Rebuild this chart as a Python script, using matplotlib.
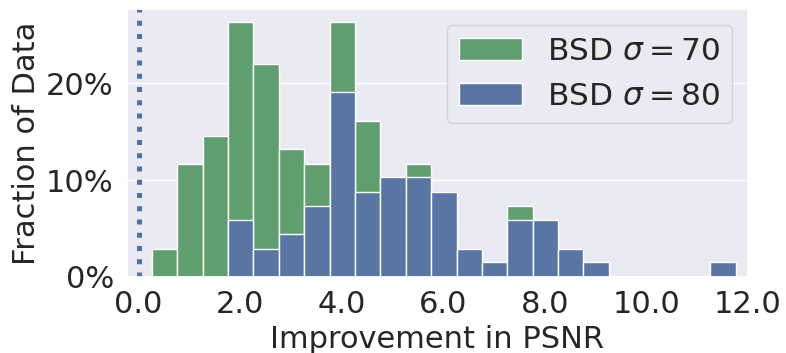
import numpy as np
import matplotlib
matplotlib.use("Agg")
import matplotlib.pyplot as plt
import seaborn as sns
from matplotlib.ticker import FuncFormatter

# Histogram bins (PSNR improvement, dB)
bin_start = 0.26
bin_width = 0.5
n_bins = 23

# Percentage of images falling in each bin
bsd70_pct = [2.9, 11.7, 14.6, 26.4, 22.0, 13.2, 11.7, 26.4, 16.1, 8.8, 11.7, 5.9,
             1.5, 0.0, 7.3, 4.4, 1.5, 0.0, 0.0, 0.0, 0.0, 0.0, 0.0]
bsd80_pct = [0.0, 0.0, 0.0, 5.9, 2.9, 4.4, 7.3, 19.1, 8.8, 10.3, 10.3, 8.8,
             2.9, 1.5, 5.9, 5.9, 2.9, 1.5, 0.0, 0.0, 0.0, 0.0, 1.5]

series_labels = [r"BSD $\sigma = 70$", r"BSD $\sigma = 80$"]
x_ticks = [0.0, 2.0, 4.0, 6.0, 8.0, 10.0, 12.0]
y_ticks = [0, 10, 20]

sns.set_theme(style="darkgrid", font_scale=2)
plt.rcParams["font.family"] = ["DejaVu Sans"]

fig = plt.figure(figsize=(7.86, 3.53), dpi=100)
ax = fig.add_axes([127 / 786, 1 - 277 / 353, (748 - 127) / 786, (277 - 9) / 353])

edges = bin_start + bin_width * np.arange(n_bins)
ax.bar(edges, bsd70_pct, width=bin_width, align="edge", color="#5F9E6E",
       edgecolor="white", linewidth=1, label=series_labels[0])
ax.bar(edges, bsd80_pct, width=bin_width, align="edge", color="#5875A4",
       edgecolor="white", linewidth=1, label=series_labels[1])

ax.axvline(0.0, color="#4C72B0", linestyle=":", linewidth=3.6)

ax.set_xlim(-0.23, 12.0)
ax.set_ylim(0, 27.7)
ax.set_xticks(x_ticks)
ax.set_xticklabels([f"{t:.1f}" for t in x_ticks])
ax.set_yticks(y_ticks)
ax.yaxis.set_major_formatter(FuncFormatter(lambda v, p: f"{v:.0f}%"))
ax.grid(axis="x", visible=False)

ax.set_xlabel("Improvement in PSNR", fontsize=22)
ax.set_ylabel("Fraction of Data", fontsize=22)
ax.tick_params(labelsize=22)
ax.legend(loc="upper right", fontsize=22.5)

fig.savefig("out.png", dpi=100)
